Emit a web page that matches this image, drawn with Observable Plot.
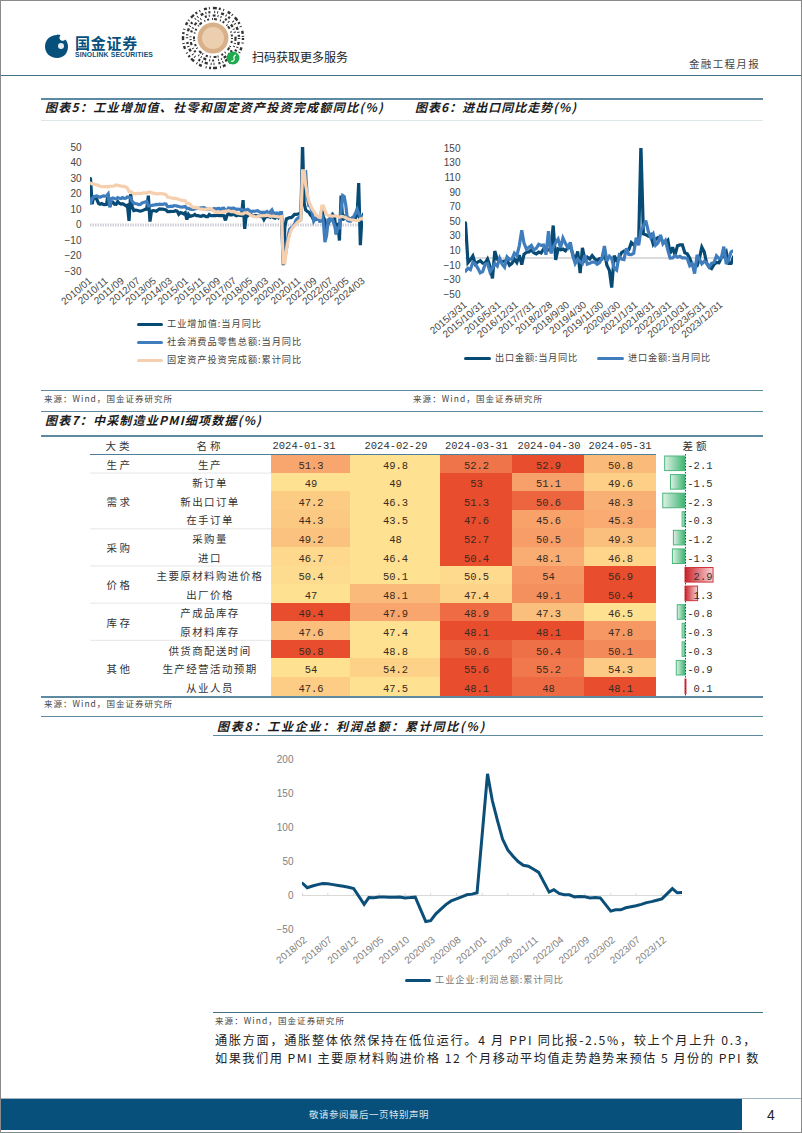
<!DOCTYPE html>
<html lang="zh">
<head>
<meta charset="utf-8">
<script src="https://cdn.jsdelivr.net/npm/d3@7"></script>
<script src="https://cdn.jsdelivr.net/npm/@observablehq/plot@0.6"></script>
<style>
html,body{margin:0;padding:0;background:#fff}
#page{position:relative;width:802px;height:1133px;overflow:hidden;background:#fff;font-family:"Noto Sans CJK SC",sans-serif;color:#333}
#page .abs{position:absolute;white-space:nowrap;line-height:1}
#page svg{overflow:visible;background:transparent}
.title{font-weight:700;font-style:italic;font-size:12px;color:#1b1b1b;transform:translateY(-50%)}
.src{font-size:8.5px;color:#444;transform:translateY(-50%)}
.lg{font-size:9.2px;color:#444;transform:translateY(-50%)}
.th{font-size:10.5px;color:#333;transform:translate(-50%,-50%)}
.para{font-size:12.2px;color:#222;transform:translateY(-50%)}
</style>
</head>
<body>
<div id="page"></div>
<script>
// ---------- chart 5 ----------
const industry = [
30,13.5,18.1,17.8,16.5,14,13.4,13.9,13.3,13.1,13.3,20,
11.6,14.9,14.8,13.4,13.3,15.1,14,13.5,13.8,13.2,12.4,12.8,
2.7,20,11.9,9.3,9.6,9.5,9.2,8.9,9.2,9.6,10.1,10.3,
18.9,2.2,8.9,9.3,9.2,8.9,9.7,10.4,10.2,10.3,10,9.7,
8.6,8.6,8.8,8.7,8.8,9.2,9,6.9,8,7.7,7.2,7.9,
3.5,6.8,5.6,5.9,6.1,6.8,6,6.1,5.7,5.6,6.2,5.9,
5.4,5.4,6.8,6,6,6.2,6,6.3,6.1,6.1,6.2,6,
3,6.3,7.6,6.5,6.5,7.6,6.4,6,6.6,6.2,6.1,16,
-2.5,7.2,6,7,6.8,6,6,6.1,5.8,5.9,5.4,5.7,
3.5,5.3,5.5,5.4,5,6.3,4.8,4.4,5.8,4.7,6.2,4.9,
-25.9,-1.1,3.9,4.4,4.8,4.8,5.6,6.9,6.9,7,7.3,7.3,
52,14,9.8,8.8,8.3,6.4,5.3,3.1,3.5,3.8,4.3,4.5,
10,5,3,-2.9,0.7,3.9,3.8,6.5,5,-6,1.3,-10,
19,3,5.6,4.4,3.5,4.4,3.7,4.5,4.5,4.6,6.6,27,
-13,5,7];
const retail = [
14,17,18,18.5,18.7,18.3,17.9,18.4,18.8,18.6,18.7,20,
11.6,17,17.4,17.1,16.9,17.7,17.2,17,17.7,17.2,17.3,18.1,
18,17.5,15.2,14.1,13.8,13.7,13.1,13.2,14.2,14.5,14.9,15.2,
12.3,12.3,12.6,12.8,12.9,13.3,13.2,13.4,13.3,13.3,13.7,13.6,
11.8,11.8,12.2,11.9,12.5,12.4,12.2,11.9,11.6,11.5,11.7,11.9,
10.7,10.7,10.2,10,10.1,10.6,10.5,10.8,10.9,11,11.2,11.1,
10.2,10.2,10.5,10.1,10,10.6,10.2,10.6,10.7,10,10.8,10.9,
9.5,9.5,10.9,10.7,10.7,11,10.4,10.1,10.3,10,10.2,9.4,
9.7,9.7,10.1,9.4,8.5,9,8.8,9,9.2,8.6,8.1,8.2,
8.2,8.2,8.7,7.2,8.6,9.8,7.6,7.5,7.8,7.2,8,8,
-20.5,-20.5,-15.8,-7.5,-2.8,-1.8,-1.1,0.5,3.3,4.3,5,4.6,
33.8,33.8,34.2,17.7,12.4,12.1,8.5,2.5,4.4,4.9,3.9,1.7,
6.7,1.7,-11.1,-6.7,3.1,2.7,5.4,2.5,-0.5,-6,-1.8,-1.8,
10,19,18.4,12.7,3.1,2.5,2.5,4.6,5.5,7.6,10.1,7.4,
5.5,5.5,3];
const fixedAsset = [
27,26.5,26.4,26.1,25.9,25.5,25,24.8,24.8,24.8,24.9,24.5,
25,25,25,25.4,25.8,25.6,25.4,25,24.9,24.9,24.5,23.8,
21.5,21.5,20.9,20.2,20.1,20.4,20.4,20.2,20.5,20.7,20.7,20.6,
21.2,21.2,20.9,20.6,20.4,20.1,20.1,20.3,20.2,20.1,19.9,19.6,
17.9,17.9,17.6,17.3,17.2,17.3,17,16.5,16.1,15.9,15.8,15.7,
13.9,13.9,13.5,12,11.4,11.4,11.2,10.9,10.3,10.2,10.2,10,
10.2,10.2,10.7,10.5,9.6,9,8.1,8.1,8.2,8.3,8.3,8.1,
8.9,8.9,9.2,8.9,8.6,8.6,8.3,7.8,7.5,7.3,7.2,7.2,
7.9,7.9,7.5,7,6.1,6,5.5,5.3,5.4,5.7,5.9,5.9,
6.1,6.1,6.3,6.1,5.6,5.8,5.7,5.5,5.4,5.2,5.2,5.4,
-24.5,-24.5,-16.1,-10.3,-6.3,-3.1,-1.6,-0.3,0.8,1.8,2.6,2.9,
35,35,25.6,19.9,15.4,12.6,10.3,8.9,7.3,6.1,5.2,4.9,
12.2,12.2,9.3,6.8,6.2,6.1,5.7,5.8,5.9,5.8,5.3,5.1,
5.5,5.5,5.1,4.7,4,3.8,3.4,3.2,3.1,2.9,2.9,3,
4,4,4.5];
const ticks5 = ["2010/01","2010/11","2011/09","2012/07","2013/05","2014/03","2015/01","2015/11","2016/09","2017/07","2018/05","2019/03","2020/01","2020/11","2021/09","2022/07","2023/05","2024/03"];
const yTicks5 = [50,40,30,20,10,0,-10,-20,-30];

// ---------- chart 6 ----------
const exports6 = [
48,-6.4,-2.5,2.8,-8.3,-5.5,-3.7,-6.9,-6.8,-1.4,
-11.2,-28,9.5,-1.8,-4.1,-4.8,-4.4,-2.8,-10,-7.3,-1.6,-6.1,
4,-9,5,7.9,8.3,11.3,7.2,5.6,8.1,6.9,12.3,10.9,
11.1,12,44.5,-2.7,12.6,11.3,12.2,9.8,14.5,15.6,5.4,-4.4,
9.1,-20.7,14,-2.7,1.1,-1.3,3.3,-1,-3.2,-0.9,-1.3,7.6,
-10,-17,-40.6,3.1,-3.2,0.5,7.2,9.5,9.9,11.4,21.1,18.1,
21,24,154.9,33,32,30,32,19.3,25.6,28.1,27.1,22,
20.9,24.2,6.2,14.7,3.9,16.9,17.9,18,7.1,5.7,-0.3,-8.9,
-9.9,-10.5,-1.3,14.8,8.5,-7.5,-12.4,-14.5,-8.8,-6.2,-6.6,0.7,
2.3,8.1,-7.5,-7.5,1.5];
const imports6 = [
-18,-14,-16,-6.1,-8.1,-13.8,-20.4,-18.8,-8.7,-7.6,
-18.8,-13.8,-7.6,-10.9,-0.4,-8.4,-12.5,1.5,-1.9,-1.4,6.7,3.1,
16.7,38.1,20.3,11.9,14.8,17.2,11,13.3,18.7,17.2,17.7,4.5,
36.9,6.3,14.4,21.5,26,14.1,27.3,20,14.3,21.4,3,-7.6,
-1.5,-5.2,-7.6,4,-8.5,-7.3,-5.6,-5.6,-8.5,-6.4,0.3,16.3,
-4,2.4,-0.9,-14.2,-16.6,2.7,-1.4,-2.1,13.2,4.7,4.5,6.5,
27.9,17.3,38.1,43.4,51.1,36.7,28.1,33,17.6,20.6,31.7,19.5,
23.9,10.4,-0.1,0,3.6,1,2.3,0.2,0.3,-0.7,-10.6,-7.5,
-21.3,4.2,-1.4,-7.9,-4.5,-6.8,-12.3,-7.2,-6.2,3,-0.6,0.2,
15.5,-8.2,-1.9,8.4,10];
const ticks6 = ["2015/3/31","2015/10/31","2016/5/31","2016/12/31","2017/7/31","2018/2/28","2018/9/30","2019/4/30","2019/11/30","2020/6/30","2021/1/31","2021/8/31","2022/3/31","2022/10/31","2023/5/31","2023/12/31"];
const yTicks6 = [150,130,110,90,70,50,30,10,-10,-30,-50];

// ---------- chart 7 ----------
const groups = ["生产","需求","采购","价格","库存","其他"];
const groupSizes = [1,3,2,2,2,3];
const names = ["生产","新订单","新出口订单","在手订单","采购量","进口","主要原材料购进价格","出厂价格","产成品库存","原材料库存","供货商配送时间","生产经营活动预期","从业人员"];
const jan = [51.3,49,47.2,44.3,49.2,46.7,50.4,47,49.4,47.6,50.8,54,47.6];
const feb = [49.8,49,46.3,43.5,48,46.4,50.1,48.1,47.9,47.4,48.8,54.2,47.5];
const mar = [52.2,53,51.3,47.6,52.7,50.4,50.5,47.4,48.9,48.1,50.6,55.6,48.1];
const apr = [52.9,51.1,50.6,45.6,50.5,48.1,54,49.1,47.3,48.1,50.4,55.2,48];
const may = [50.8,49.6,48.3,45.3,49.3,46.8,56.9,50.4,46.5,47.8,50.1,54.3,48.1];
const diffs = [-2.1,-1.5,-2.3,-0.3,-1.2,-1.3,2.9,1.3,-0.8,-0.3,-0.3,-0.9,0.1];
const dateHeads = ["2024-01-31","2024-02-29","2024-03-31","2024-04-30","2024-05-31"];

// ---------- chart 8 ----------
const profit = [
18,11.5,14,16,17.5,17.2,16,14.7,13.5,12,10.3,null,
-13,-3,-3.4,-2.3,-2.3,-2.4,-2.4,-2.3,-3.5,-3.1,-2.5,null,
-38.3,-37,-27,-20,-13,-8,-5,-2,1,2,4,null,
179,140,110,83,67,58,50,44.5,43,38.5,34,null,
5,8.5,3,1,1,-2,-1.5,-2,-3.5,-3,-3.5,null,
-22.9,-21,-21,-18,-16.5,-15,-13,-10.5,-9,-7,-5,null,
10.2,4,4.3];
const ticks8 = ["2018/02","2018/07","2018/12","2019/05","2019/10","2020/03","2020/08","2021/01","2021/06","2021/11","2022/04","2022/09","2023/02","2023/07","2023/12"];
const yTicks8 = [200,150,100,50,0,-50];

// ---------- palette ----------
const NAVY = "#074a74", BLUE = "#3f7dbd", PEACH = "#f6cfae";
const SANS = '"Liberation Sans",Arial,sans-serif';
const CJK = '"Noto Sans CJK SC",sans-serif';
const MONO = '"Liberation Mono","Noto Sans CJK SC",monospace';

const page = document.getElementById("page");
function put(el, left, top) { el.style.position = "absolute"; el.style.left = left + "px"; el.style.top = top + "px"; page.appendChild(el); return el; }
function txt(cls, s, left, top, extra, fitWidth) {
  const d = document.createElement("div"); d.className = "abs " + cls; d.textContent = s;
  d.style.left = left + "px"; d.style.top = top + "px"; if (extra) Object.assign(d.style, extra);
  page.appendChild(d);
  if (fitWidth) {
    d.style.letterSpacing = "0px";
    const w = d.getBoundingClientRect().width;
    d.style.letterSpacing = ((fitWidth - w) / s.length).toFixed(3) + "px";
  }
  return d;
}
function hr(x1, x2, y, color, h) {
  const d = document.createElement("div"); d.className = "abs";
  Object.assign(d.style, {left: x1 + "px", top: y + "px", width: (x2 - x1) + "px", height: h + "px", background: color});
  page.appendChild(d);
}
function swatch(x1, x2, y, color) {
  const d = document.createElement("div"); d.className = "abs";
  Object.assign(d.style, {left: x1 + "px", top: (y - 1.5) + "px", width: (x2 - x1) + "px", height: "3px", background: color, borderRadius: "1.5px"});
  page.appendChild(d);
}
const series = (dates, vals) => {
  if (dates.length !== vals.length) throw new Error("length " + dates.length + " vs " + vals.length);
  return vals.map((v, i) => ({date: dates[i], v})).filter(d => d.v != null);
};
const lineOpts = (stroke, sw) => ({x: "date", y: "v", stroke, strokeWidth: sw, strokeLinejoin: "miter", strokeMiterlimit: 3, clip: true});

// ---------- header ----------
const deco = document.createElement("div");
deco.innerHTML = `
<svg width="802" height="80" style="position:absolute;left:0;top:0">
  <path d="M57 35c-7 0-12 5-12 11.5S50 58 57 58s11-5 11-11.5c0-3-1-5-2.500-7-1.500 1.500-4 2-5.500 0-1-1.500-.5-3 .5-4.500-1-.3-2-.5-3.500-.5z" fill="#07507c"/>
  <circle cx="61" cy="46" r="3" fill="#fff" opacity=".9"/>
  <g fill="none" stroke="#333">
    <circle cx="213" cy="38" r="30" stroke-width="2.400" stroke-dasharray="2 2.500 1 4 3 2 1 3 4 2"/>
    <circle cx="213" cy="38" r="26" stroke-width="2.400" stroke-dasharray="1 3 3 2 1 2 2 4 1 2"/>
    <circle cx="213" cy="38" r="22.500" stroke-width="2.200" stroke-dasharray="3 2 1 2 1 4 2 2 1 3"/>
    <circle cx="213" cy="38" r="19" stroke-width="2" stroke-dasharray="1 2 2 3 1 1 3 3"/>
  </g>
  <circle cx="213" cy="38" r="15.500" fill="#d8b18a"/>
  <circle cx="213" cy="38" r="11" fill="#eccfae"/>
  <circle cx="233" cy="58" r="6.500" fill="#1faa4e"/>
  <path d="M231 61c2 1 4-1 3-3s2-3 2-3" fill="none" stroke="#fff" stroke-width="1.200"/>
</svg>`;
put(deco, 0, 0);
txt("", "国金证券", 75, 34.500, {fontSize: "15px", fontWeight: 700, color: "#07507c"}, 63);
txt("", "SINOLINK SECURITIES", 75, 52, {fontFamily: SANS, fontSize: "6.800px", fontWeight: 700, color: "#07507c"}, 78);
txt("", "扫码获取更多服务", 252, 50.500, {fontSize: "12px", color: "#222"}, 96);
txt("", "金融工程月报", 689, 59, {fontSize: "10.500px", color: "#444"}, 71);

// ---------- rules ----------
const RULE = "#5d8aa0";
hr(0, 802, 75, "#3f7088", 1.300);
hr(41, 763, 98, RULE, 1.500);
hr(41, 763, 120, "#dfe6ea", 1);
hr(41, 763, 390, RULE, 1);
hr(41, 763, 411, RULE, 1);
hr(41, 763, 435, RULE, 1.800);
hr(41, 763, 696, RULE, 1.800);
hr(41, 763, 715.500, RULE, 1.300);
hr(213, 763, 734.500, RULE, 1.200);
hr(213, 763, 1011.500, "#3f7088", 1);

// ---------- titles ----------
txt("title", "图表5：工业增加值、社零和固定资产投资完成额同比(%)", 45, 106.500, null, 339);
txt("title", "图表6：进出口同比走势(%)", 415, 106.500, null, 162);
txt("title", "图表7：中采制造业PMI细项数据(%)", 45, 420, null, 217);
txt("title", "图表8：工业企业：利润总额：累计同比(%)", 217, 726, null, 269);

txt("src", "来源：Wind，国金证券研究所", 44, 398, null, 129);
txt("src", "来源：Wind，国金证券研究所", 413, 398, null, 130);
txt("src", "来源：Wind，国金证券研究所", 44, 703, null, 129);
txt("src", "来源：Wind，国金证券研究所", 215, 1019.500, null, 130);

// ---------- chart 5 ----------
{
  const months = d3.utcMonth.range(new Date(Date.UTC(2010, 0, 1)), new Date(Date.UTC(2024, 3, 1)));
  const tickDates = ticks5.map(d3.utcParse("%Y/%m"));
  put(Plot.plot({
    width: 340, height: 191, marginLeft: 50, marginRight: 17, marginTop: 17, marginBottom: 50,
    style: {fontFamily: SANS, fontSize: "10px", color: "#444"},
    x: {type: "utc", domain: [months[0], months[months.length - 1]]},
    y: {domain: [-30, 50], nice: false},
    marks: [
      Plot.axisY({ticks: yTicks5, tickSize: 0, tickPadding: 9, label: null}),
      Plot.axisX({ticks: tickDates, tickFormat: d3.utcFormat("%Y/%m"), tickRotate: -40, tickSize: 0, tickPadding: 8, label: null}),
      Plot.ruleY([0], {stroke: "#cfd0da", strokeWidth: 3, strokeDasharray: "1.500 1"}),
      Plot.line(series(months, industry), lineOpts(NAVY, 3.2)),
      Plot.line(series(months, retail), lineOpts(BLUE, 3.2)),
      Plot.line(series(months, fixedAsset), lineOpts(PEACH, 3.2))
    ]
  }), 40, 130);
  swatch(137, 163, 324, NAVY); txt("lg", "工业增加值:当月同比", 167, 324, null, 95);
  swatch(137, 163, 342, BLUE); txt("lg", "社会消费品零售总额:当月同比", 167, 342, null, 135);
  swatch(137, 163, 360, PEACH); txt("lg", "固定资产投资完成额:累计同比", 167, 360, null, 135);
}

// ---------- chart 6 ----------
{
  const months = d3.utcMonth.range(new Date(Date.UTC(2015, 2, 1)), new Date(Date.UTC(2024, 5, 1)));
  const parse = d3.utcParse("%Y/%m/%d");
  const tickDates = ticks6.map(s => d3.utcMonth.floor(parse(s)));
  const labelOf = new Map(tickDates.map((d, i) => [+d, ticks6[i]]));
  put(Plot.plot({
    width: 340, height: 214, marginLeft: 55, marginRight: 17, marginTop: 18, marginBottom: 50,
    style: {fontFamily: SANS, fontSize: "10px", color: "#444"},
    x: {type: "utc", domain: [months[0], months[months.length - 1]]},
    y: {domain: [-50, 150], nice: false},
    marks: [
      Plot.axisY({ticks: yTicks6, tickSize: 0, tickPadding: 5, label: null}),
      Plot.axisX({ticks: tickDates, tickFormat: d => labelOf.get(+d), tickRotate: -40, tickSize: 0, tickPadding: 9, label: null}),
      Plot.ruleY([0], {stroke: "#dcdcdc", strokeWidth: 2}),
      Plot.line(series(months, exports6), lineOpts(NAVY, 3.2)),
      Plot.line(series(months, imports6), lineOpts(BLUE, 3.2))
    ]
  }), 410, 130);
  swatch(464, 491, 358, NAVY); txt("lg", "出口金额:当月同比", 495, 358, null, 83);
  swatch(597, 624, 358, BLUE); txt("lg", "进口金额:当月同比", 628, 358, null, 83);
}

// ---------- chart 7 ----------
{
  const H = 241.600, TOP = 454;
  const matrix = [jan, feb, mar, apr, may];
  const tAt = (col, r) => {
    const row = matrix.map(c => c[r]);
    const lo = d3.min(row), hi = d3.max(row);
    return (matrix[col][r] - lo) / (hi - lo);
  };
  const cols = [[271, 79], [350, 90], [440, 72], [512, 72], [584, 72]];
  const headCentres = [304, 396, 476.500, 549, 620];
  cols.forEach(([left, width], c) => {
    put(Plot.plot({
      width, height: H, margin: 0,
      style: {fontFamily: MONO, fontSize: "10.500px", color: "#333"},
      x: {axis: null, type: "band", domain: [dateHeads[c]], padding: 0, round: false},
      y: {axis: null, type: "band", domain: names, padding: 0, round: false},
      color: {type: "linear", domain: [0, .5, 1], range: ["#ffe192", "#f8a46c", "#e84d2d"]},
      marks: [
        Plot.cell(names, {x: () => dateHeads[c], y: d => d, fill: (d, i) => tAt(c, i), shapeRendering: "crispEdges"}),
        Plot.text(names, {x: () => dateHeads[c], y: d => d, dy: 1.500, text: (d, i) => String(matrix[c][i]), fill: "#3a2a20"})
      ]
    }), left, TOP);
    txt("th", dateHeads[c], headCentres[c], 446, {fontFamily: MONO});
  });
  txt("th", "大类", 119, 446, {letterSpacing: "3px"});
  txt("th", "名称", 210, 446, {letterSpacing: "3px"});
  txt("th", "差额", 696, 446, {letterSpacing: "3px"});
  hr(90, 656, 453.500, "#4e7f98", 1);

  // group rows
  let acc = 0;
  const groupMids = [], groupEnds = [];
  groupSizes.forEach(n => { groupMids.push(acc + n / 2); acc += n; groupEnds.push(acc); });
  put(Plot.plot({
    width: 58, height: H, margin: 0,
    style: {fontFamily: CJK, fontSize: "10.500px", letterSpacing: "2.500px", color: "#333"},
    x: {axis: null}, y: {axis: null, domain: [0, names.length], reverse: true},
    marks: [Plot.text(groups, {frameAnchor: "middle", y: (d, i) => groupMids[i], dy: 1.500, text: d => d, fill: "#333"})]
  }), 90, TOP);
  put(Plot.plot({
    width: 123, height: H, margin: 0,
    style: {fontFamily: CJK, fontSize: "10.500px", letterSpacing: "1.400px", color: "#333"},
    x: {axis: null}, y: {axis: null, type: "band", domain: names, padding: 0, round: false},
    marks: [Plot.text(names, {frameAnchor: "middle", y: d => d, dy: 1.500, text: d => d, fill: "#333"})]
  }), 148, TOP);
  put(Plot.plot({
    width: 181, height: H, margin: 0,
    x: {axis: null}, y: {axis: null, domain: [0, names.length], reverse: true},
    marks: [Plot.ruleY(groupEnds.slice(0, -1), {stroke: "#e6e6e6", strokeWidth: 1})]
  }), 90, TOP);

  // difference bars
  const neg = diffs.map((v, i) => ({v, n: names[i]})).filter(d => d.v < 0);
  const pos = diffs.map((v, i) => ({v, n: names[i]})).filter(d => d.v >= 0);
  put(Plot.plot({
    width: 62, height: H, margin: 0,
    style: {fontFamily: MONO, fontSize: "10.500px", color: "#333"},
    x: {axis: null, domain: [-35 / 9.67, 27 / 9.67], nice: false},
    y: {axis: null, type: "band", domain: names, padding: 0, round: false},
    marks: [
      () => d3.create("svg:defs").html(`
        <linearGradient id="gNeg" x1="0" x2="1" y1="0" y2="0"><stop offset="0" stop-color="#dff2e6"/><stop offset="1" stop-color="#3cb371"/></linearGradient>
        <linearGradient id="gPos" x1="0" x2="1" y1="0" y2="0"><stop offset="0" stop-color="#c8232c"/><stop offset="1" stop-color="#f8d5d5"/></linearGradient>`).node(),
      Plot.barX(neg, {x1: 0, x2: "v", y: "n", fill: "url(#gNeg)", stroke: "#4cb57c", strokeWidth: 1, insetTop: 2, insetBottom: 2}),
      Plot.barX(pos, {x1: 0, x2: "v", y: "n", fill: "url(#gPos)", stroke: "#d0353d", strokeWidth: 1, insetTop: 2, insetBottom: 2}),
      Plot.ruleX([0], {stroke: "#1e5b45", strokeWidth: 1, strokeDasharray: "1.500 1.500"}),
      Plot.text(diffs, {frameAnchor: "right", y: (d, i) => names[i], dy: 1.500, text: d => String(d), textAnchor: "end", fill: "#333"})
    ]
  }), 650, TOP);
}

// ---------- chart 8 ----------
{
  const months = d3.utcMonth.range(new Date(Date.UTC(2018, 1, 1)), new Date(Date.UTC(2024, 4, 1)));
  const tickDates = ticks8.map(d3.utcParse("%Y/%m"));
  put(Plot.plot({
    width: 480, height: 269, marginLeft: 92, marginRight: 8, marginTop: 44, marginBottom: 55,
    style: {fontFamily: SANS, fontSize: "10px", color: "#808080"},
    x: {type: "utc", domain: [months[0], months[months.length - 1]]},
    y: {domain: [-50, 200], nice: false},
    marks: [
      Plot.axisY({ticks: yTicks8, tickSize: 0, tickPadding: 9, label: null}),
      Plot.axisX({ticks: tickDates, tickFormat: d3.utcFormat("%Y/%m"), tickRotate: -40, tickSize: 0, tickPadding: 9, dx: 3, label: null}),
      Plot.ruleY([0], {stroke: "#d9d9d9", strokeWidth: 1}),
      Plot.ruleX(tickDates, {y1: 0, y2: 3, stroke: "#d9d9d9", strokeWidth: 1}),
      Plot.line(series(months, profit), lineOpts("#0b4f79", 3))
    ]
  }), 210, 715);
  swatch(405, 431, 980, "#0b4f79");
  txt("lg", "工业企业:利润总额:累计同比", 435, 980, {color: "#777"}, 129);
}

// ---------- paragraph ----------
txt("para", "通胀方面，通胀整体依然保持在低位运行。4 月 PPI 同比报-2.5%，较上个月上升 0.3，", 215, 1040, null, 542);
txt("para", "如果我们用 PMI 主要原材料购进价格 12 个月移动平均值走势趋势来预估 5 月份的 PPI 数", 215, 1058, null, 545);

// ---------- footer ----------
hr(1, 742, 1099, "#07507c", 31);
hr(0, 802, 1098, "#9fb4c0", 1);
txt("", "敬请参阅最后一页特别声明", 309, 1109.500, {fontSize: "9.500px", color: "#d8e4ec"}, 120);
txt("", "4", 767, 1108, {fontFamily: SANS, fontSize: "14px", color: "#222"});
const frame = document.createElement("div");
Object.assign(frame.style, {position: "absolute", left: 0, top: 0, width: "800px", height: "1131px", border: "1px solid #8a8a8a", pointerEvents: "none"});
page.appendChild(frame);
</script>
</body>
</html>
